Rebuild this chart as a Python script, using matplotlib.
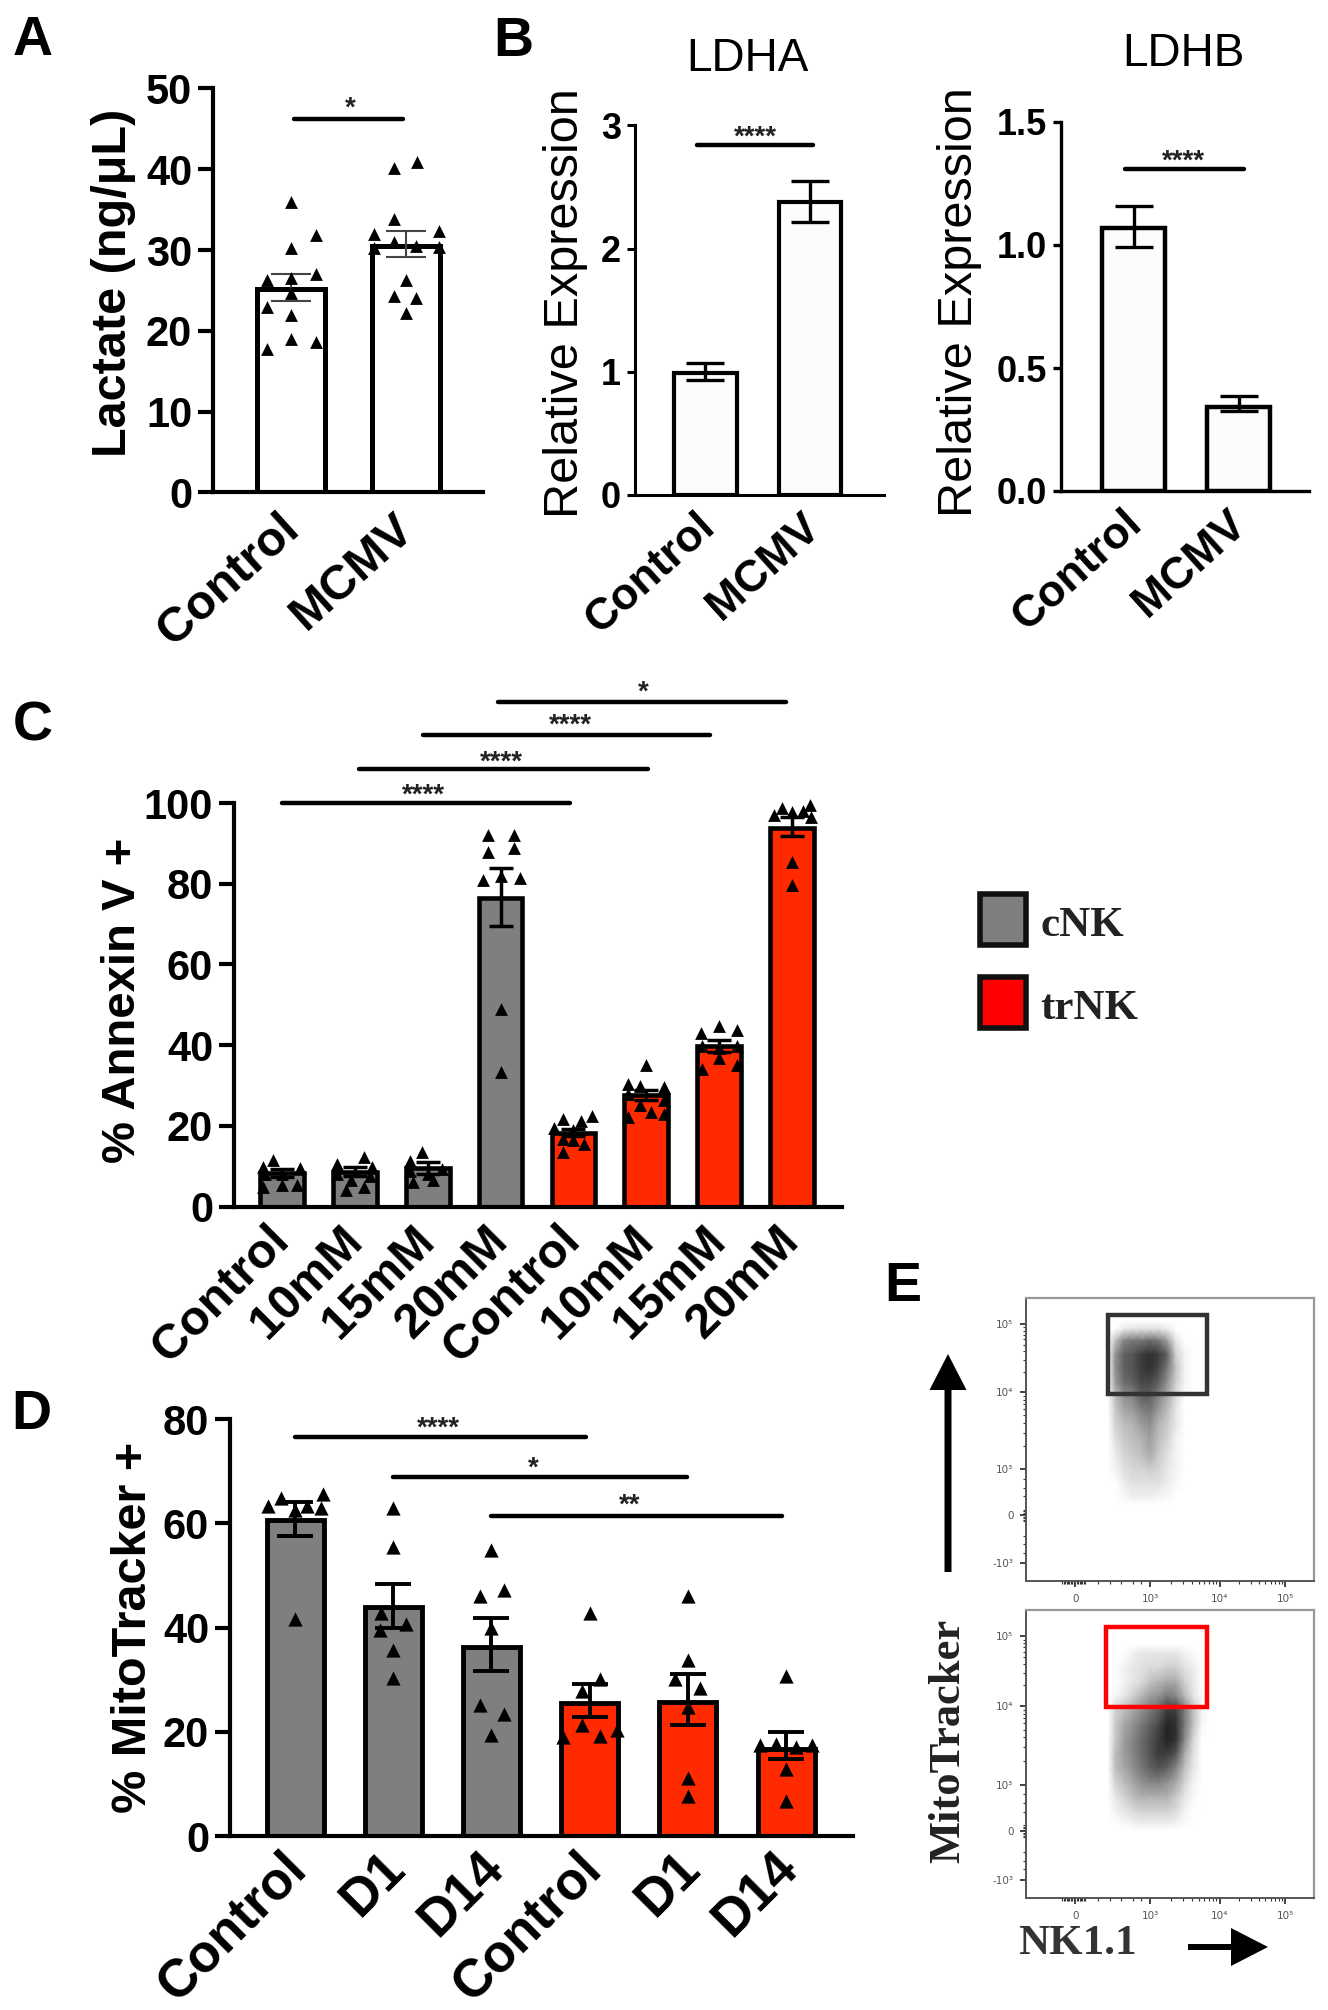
import numpy as np
import matplotlib
matplotlib.use('Agg')
import matplotlib.pyplot as plt
from matplotlib.patches import Rectangle

plt.rcParams['font.family'] = ['Liberation Sans', 'DejaVu Sans']

W, H = 1328, 2010
GREY = '#7f7f7f'
RED = '#ff2a00'

# panel A
a_labels = ['Control', 'MCMV']
a_values = [25.2, 30.5]
a_err_low = [23.7, 29.2]
a_err_high = [27.0, 32.3]
a_pts_y = [[36, 30.2, 31.8, 27, 26.3, 26.5, 24.7, 23, 22, 19, 18.6, 17.7],
           [40.1, 40.9, 33.8, 32, 32.4, 31, 30.5, 30.2, 30.4, 26.3, 24.3, 24.1, 22.2]]
a_pts_dx = [[0, 0, .22, .22, -.21, 0, 0, -.21, 0, 0, .22, -.21],
            [-.1, .1, -.1, -.28, .29, -.1, .09, -.28, .29, 0, -.1, .09, 0]]

# panel B
ldha_values = [0.99, 2.38]
ldha_err_low = [0.93, 2.22]
ldha_err_high = [1.07, 2.55]
ldhb_values = [1.07, 0.34]
ldhb_err_low = [0.99, 0.325]
ldhb_err_high = [1.16, 0.385]

# panel C
c_labels = ['Control', '10mM', '15mM', '20mM', 'Control', '10mM', '15mM', '20mM']
c_values = [8.4, 8.6, 9.5, 76.4, 18.3, 27.7, 39.8, 93.8]
c_err_low = [7.4, 7.5, 8.0, 69.6, 17.4, 26.4, 38.3, 91.8]
c_err_high = [9.4, 9.7, 11.0, 83.8, 19.2, 29.0, 41.3, 96.5]
c_pts_y = [[11.5, 9.7, 9.5, 4.9, 5.3, 5.3, 8, 8],
           [10.6, 12.4, 9.7, 4, 4.9, 6.6, 8, 7.5],
           [13.5, 11.2, 8.8, 9.3, 6.6, 6.2, 8],
           [92, 92, 87.9, 88.9, 81, 81.4, 82, 49, 33.4],
           [22.4, 21.7, 21.2, 19.5, 19, 16.8, 15.5, 16.4, 13.5],
           [35, 30.5, 29.6, 30, 27.9, 26.5, 25.2, 23.5, 23, 22.1],
           [44.7, 42.9, 43.8, 36.7, 34, 35, 39.4, 39.8, 39.8],
           [99.5, 98.7, 97, 97.8, 98, 96.5, 85.4, 79.6]]
c_pts_dx = [[-.125, -.27, .24, -.27, 0, .2, 0, -.24],
            [-.25, .13, .24, -.125, .13, -.05, -.25, .2],
            [-.08, -.24, -.24, .2, .07, -.2, 0],
            [-.17, .18, -.17, .18, -.24, .26, 0, 0, 0],
            [.25, -.14, .1, -.26, 0, -.14, .14, 0, -.14],
            [0, -.25, .25, -.08, -.25, .25, -.08, .07, .25, -.25],
            [0, -.25, .25, 0, -.24, .25, 0, -.24, .25],
            [.25, -.13, -.24, 0, .16, .27, 0, 0]]
c_sig = [(1, 4.95, 100, '****'), (2.06, 6.03, 108.4, '****'),
         (2.93, 6.88, 116.9, '****'), (3.96, 7.92, 125, '*')]

# panel D
d_labels = ['Control', 'D1', 'D14', 'Control', 'D1', 'D14']
d_values = [60.6, 44, 36.3, 25.6, 25.8, 16.7]
d_err_low = [57.5, 40, 31.6, 22.8, 21.2, 14.7]
d_err_high = [64, 48.4, 41.9, 29.2, 31.1, 20]
d_pts_y = [[63.3, 64.8, 65.6, 63.3, 62.9, 62.5, 41.7],
           [63, 55.4, 42.7, 40.7, 39.6, 35.7, 30.3],
           [54.8, 46.1, 47.1, 39.9, 25.1, 23.4, 19.3],
           [42.8, 30.1, 27.8, 21.2, 20.4, 19.1, 18.9],
           [46.1, 33.8, 30.1, 28.3, 24.7, 11.2, 7.6],
           [30.7, 17.5, 17.7, 17.5, 17, 12.9, 6.8]]
d_pts_dx = [[-.28, -.14, .28, .12, .26, 0, 0],
            [0, 0, -.12, .13, -.13, 0, 0],
            [0, -.12, .13, 0, -.12, .13, 0],
            [0, .1, -.08, -.08, .28, .1, -.27],
            [0, 0, -.13, .12, 0, 0, 0],
            [0, -.27, -.1, .26, .1, 0, 0]]
d_sig = [(1, 3.96, 76.5, '****'), (2, 4.99, 68.9, '*'), (2.99, 5.96, 61.4, '**')]

# panel E, estimated event density read by eye (0 = white, 1 = black)
e_top_x = [.285, .31, .34, .37, .40, .43, .46, .49, .52, .55, .58]
e_top_y = [.92, .89, .85, .80, .75, .70, .65, .60, .55, .50, .45, .40, .35, .30, .27]
e_top_density = [[0, 0, 0, 0, 0, 0, 0, 0, 0, 0, 0],
                 [0, 0, .08, .12, .12, .12, .12, .08, 0, 0, 0],
                 [0, .25, .5, .55, .55, .6, .55, .4, .1, 0, 0],
                 [0, .45, .65, .7, .8, .85, .8, .65, .2, .05, 0],
                 [0, .45, .65, .7, .8, .85, .75, .55, .25, .05, 0],
                 [0, .4, .6, .65, .75, .75, .65, .45, .2, .05, 0],
                 [0, .27, .45, .5, .65, .65, .5, .35, .15, 0, 0],
                 [0, .22, .35, .4, .5, .55, .4, .27, .1, 0, 0],
                 [0, .18, .27, .3, .4, .45, .3, .22, .1, 0, 0],
                 [0, .13, .22, .27, .3, .4, .27, .18, .05, 0, 0],
                 [0, .08, .18, .22, .27, .35, .22, .13, .05, 0, 0],
                 [0, .05, .13, .18, .18, .22, .18, .1, .05, 0, 0],
                 [0, 0, .08, .13, .13, .13, .13, .08, .03, 0, 0],
                 [0, 0, .03, .07, .07, .07, .05, .03, 0, 0, 0],
                 [0, 0, 0, 0, 0, 0, 0, 0, 0, 0, 0]]
e_bot_x = [.285, .31, .34, .37, .40, .43, .46, .49, .52, .55, .58, .61, .635]
e_bot_y = [.88, .85, .80, .75, .70, .65, .60, .55, .50, .45, .40, .35, .30, .26, .235]
e_bot_density = [[0, 0, 0, 0, 0, 0, 0, 0, 0, 0, 0, 0, 0],
                 [0, 0, 0, .05, .1, .1, .1, .1, .1, .05, .02, 0, 0],
                 [0, 0, .05, .1, .12, .15, .15, .2, .2, .12, .08, 0, 0],
                 [0, 0, .05, .1, .15, .25, .3, .35, .35, .2, .1, 0, 0],
                 [0, .03, .1, .2, .3, .4, .45, .55, .5, .3, .12, .02, 0],
                 [0, .18, .27, .36, .45, .55, .65, .8, .8, .55, .27, .05, 0],
                 [0, .22, .36, .45, .55, .65, .75, .9, .85, .55, .27, .03, 0],
                 [0, .22, .4, .5, .6, .7, .8, .9, .85, .5, .18, 0, 0],
                 [0, .27, .4, .5, .6, .7, .8, .8, .7, .36, .13, 0, 0],
                 [0, .27, .36, .45, .55, .65, .7, .65, .5, .27, .1, 0, 0],
                 [0, .18, .27, .36, .45, .5, .5, .45, .36, .18, .05, 0, 0],
                 [0, .1, .18, .27, .32, .32, .32, .32, .22, .1, .03, 0, 0],
                 [0, .05, .1, .14, .18, .18, .18, .18, .14, .05, 0, 0, 0],
                 [0, 0, .03, .05, .08, .08, .08, .08, .05, .02, 0, 0, 0],
                 [0, 0, 0, 0, 0, 0, 0, 0, 0, 0, 0, 0, 0]]
e_yticks = [.908, .667, .394, .232, .063]
e_yticklabels = ['10⁵', '10⁴', '10³', '0', '-10³']
e_xticks = [.171, .431, .672, .900]
e_xticklabels = ['0', '10³', '10⁴', '10⁵']

fig = plt.figure(figsize=(W / 100, H / 100), dpi=100)


def px_axes(x0, y_top, x1, y_bottom):
    return fig.add_axes([x0 / W, 1 - y_bottom / H, (x1 - x0) / W, (y_bottom - y_top) / H])


def bar_panel(box, xlim, ylim, yticks, values, err_low, err_high, colors, labels,
              width=0.59, lw=3, spine_lw=3, capsize=13, ecolor='k', elw=2.5,
              pts_y=None, pts_dx=None, ms=90, tick_size=30, label_size=34, rot=43,
              label_off=(6, -20), ticklen=11, yfmt=None):
    ax = px_axes(*box)
    xs = np.arange(1, len(values) + 1)
    ax.bar(xs, values, width=width, color=colors, edgecolor='k', linewidth=lw, zorder=2)
    low = np.array(values) - np.array(err_low)
    high = np.array(err_high) - np.array(values)
    ax.errorbar(xs, values, yerr=[low, high], fmt='none', ecolor=ecolor, elinewidth=elw,
                capsize=capsize, capthick=elw, zorder=3)
    if pts_y is not None:
        for x, ys, dxs in zip(xs, pts_y, pts_dx):
            ax.scatter(x + np.array(dxs), ys, marker='^', s=ms, color='k', linewidths=0,
                       zorder=4, clip_on=False)
    ax.set_xlim(*xlim)
    ax.set_ylim(*ylim)
    ax.set_yticks(yticks)
    if yfmt:
        ax.set_yticklabels([yfmt.format(t) for t in yticks])
    ax.tick_params(axis='y', length=ticklen, width=spine_lw, labelsize=tick_size, pad=4)
    for t in ax.get_yticklabels():
        t.set_fontweight('bold')
    ax.set_xticks(xs)
    ax.set_xticklabels([])
    ax.tick_params(axis='x', length=0)
    for s in ['top', 'right']:
        ax.spines[s].set_visible(False)
    for s in ['left', 'bottom']:
        ax.spines[s].set_linewidth(spine_lw)
    for x, lab in zip(xs, labels):
        ax.annotate(lab, xy=(x, 0), xycoords=('data', 'axes fraction'), xytext=label_off,
                    textcoords='offset pixels', rotation=rot, ha='right', va='center',
                    rotation_mode='anchor', fontsize=label_size, fontweight='bold')
    return ax


def sig_line(ax, x0, x1, y, lw=3.2):
    ax.plot([x0, x1], [y, y], color='k', lw=lw, clip_on=False, solid_capstyle='round', zorder=5)


# A
ax_a = bar_panel((213, 88.4, 483, 492.5), (0.322, 2.67), (0, 50), [0, 10, 20, 30, 40, 50],
                 a_values, a_err_low, a_err_high, ['white', 'white'], a_labels,
                 lw=3.6, ecolor='#444444', elw=1.5, capsize=14.5, pts_y=a_pts_y, pts_dx=a_pts_dx,
                 ms=85, label_size=35, rot=42, label_off=(2, -30))
sig_line(ax_a, 1.03, 1.97, 46.2)

# B
ax_b1 = bar_panel((635, 125.5, 884, 495), (0.333, 2.705), (0, 3), [0, 1, 2, 3],
                  ldha_values, ldha_err_low, ldha_err_high, ['#fcfcfc', '#fcfcfc'], a_labels,
                  width=0.6, lw=3, spine_lw=2.2, elw=2.4, capsize=13.5, tick_size=26,
                  label_size=32, rot=42, ticklen=6, label_off=(4, -26))
sig_line(ax_b1, 0.92, 2.03, 2.84)
ax_b2 = bar_panel((1061, 122, 1309, 491), (0.31, 2.67), (0, 1.5), [0, 0.5, 1, 1.5],
                  ldhb_values, ldhb_err_low, ldhb_err_high, ['#fcfcfc', '#fcfcfc'], a_labels,
                  width=0.6, lw=3.2, spine_lw=2.4, elw=2.4, capsize=13.5, tick_size=26,
                  label_size=32, rot=42, ticklen=6, yfmt='{:.1f}', label_off=(2, -27))
sig_line(ax_b2, 0.92, 2.05, 1.31)

# C
c_colors = [GREY] * 4 + [RED] * 4
ax_c = bar_panel((234, 803, 842, 1206.6), (0.338, 8.69), (0, 100), [0, 20, 40, 60, 80, 100],
                 c_values, c_err_low, c_err_high, c_colors, c_labels,
                 width=0.6, lw=3.3, elw=2.5, capsize=8.5, pts_y=c_pts_y, pts_dx=c_pts_dx,
                 ms=85, label_size=35, rot=45, label_off=(0, -27))
for x0, x1, y, _ in c_sig:
    sig_line(ax_c, x0, x1, y)

# D
d_colors = [GREY] * 3 + [RED] * 3
ax_d = bar_panel((230, 1419, 853, 1836), (0.338, 6.68), (0, 80), [0, 20, 40, 60, 80],
                 d_values, d_err_low, d_err_high, d_colors, d_labels,
                 width=0.58, lw=3.5, elw=2.8, capsize=13, pts_y=d_pts_y, pts_dx=d_pts_dx,
                 ms=105, label_size=38, rot=45, label_off=(4, -24))
for x0, x1, y, _ in d_sig:
    sig_line(ax_d, x0, x1, y)


# E
def flow_panel(box, xs, ys, density, gate_color, gate):
    ax = px_axes(*box)
    ax.pcolormesh(xs, ys, np.array(density), shading='gouraud', cmap='gray_r', vmin=0, vmax=1.05)
    ax.set_xlim(0, 1)
    ax.set_ylim(0, 1)
    ax.add_patch(Rectangle((gate[0], gate[2]), gate[1] - gate[0], gate[3] - gate[2],
                           fill=False, edgecolor=gate_color, lw=3.2, zorder=5))
    ax.set_xticks(e_xticks)
    ax.set_xticklabels(e_xticklabels)
    ax.set_yticks(e_yticks)
    ax.set_yticklabels(e_yticklabels)
    ax.tick_params(length=4, width=1.2, labelsize=7.5, labelcolor='#555555', color='#222222', pad=5)
    for tk in ax.get_xticklabels() + ax.get_yticklabels():
        tk.set_family(['DejaVu Sans'])
    # log minor ticks between the decade marks, packed around zero like the FlowJo axis
    ym, xm = [], []
    for lo, hi in [(e_yticks[2], e_yticks[1]), (e_yticks[1], e_yticks[0])]:
        ym += [lo + (hi - lo) * np.log10(m) for m in range(2, 10)]
    for lo, hi in [(e_xticks[1], e_xticks[2]), (e_xticks[2], e_xticks[3])]:
        xm += [lo + (hi - lo) * np.log10(m) for m in range(2, 10)]
    ym += list(e_yticks[3] + np.linspace(-.02, .02, 9)) + [.10, .13, .16, .30, .33, .36]
    xm += list(e_xticks[0] + np.linspace(-.045, .035, 17)) + [.25, .29, .33, .37, .40]
    ax.set_yticks(ym, minor=True)
    ax.set_xticks(xm, minor=True)
    ax.tick_params(which='minor', length=2.5, width=0.8, color='#333333')
    for s in ['top', 'right']:
        ax.spines[s].set_color('#999999')
        ax.spines[s].set_linewidth(1.6)
    for s in ['left', 'bottom']:
        ax.spines[s].set_color('#555555')
        ax.spines[s].set_linewidth(1.4)
    return ax


flow_panel((1026, 1298, 1314, 1581), e_top_x, e_top_y, e_top_density, '#333333', (.283, .628, .662, .940))
flow_panel((1026, 1610, 1314, 1898), e_bot_x, e_bot_y, e_bot_density, '#ff0000', (.279, .630, .664, .941))

# full figure layer in pixel coordinates, for letters, axis titles, stars, legend and arrows
ov = fig.add_axes([0, 0, 1, 1], zorder=10)
ov.set_xlim(0, W)
ov.set_ylim(H, 0)
ov.axis('off')
ov.patch.set_alpha(0)

for s, x, y in [('A', 33, 41), ('B', 513, 42), ('C', 33, 726), ('D', 31, 1415), ('E', 903, 1287)]:
    ov.text(x, y, s, fontsize=40, fontweight='bold', ha='center', va='center')

ov.text(113, 283, 'Lactate (ng/μL)', fontsize=35, fontweight='bold', rotation=90, ha='center', va='center')
ov.text(566, 303, 'Relative Expression', fontsize=35, rotation=90, ha='center', va='center')
ov.text(960, 302, 'Relative Expression', fontsize=35, rotation=90, ha='center', va='center')
ov.text(123, 1000, '% Annexin V +', fontsize=34, fontweight='bold', rotation=90, ha='center', va='center')
ov.text(134, 1627, '% MitoTracker +', fontsize=35, fontweight='bold', rotation=90, ha='center', va='center')
ov.text(747, 59, 'LDHA', fontsize=33, ha='center', va='center')
ov.text(1183, 54, 'LDHB', fontsize=33, ha='center', va='center')

star_pos = [('*', 350, 109), ('****', 755, 138), ('****', 1183, 162),
            ('****', 423, 796), ('****', 501, 763), ('****', 570.5, 726), ('*', 643, 693),
            ('****', 438, 1429), ('*', 533, 1469), ('**', 630, 1506)]
for s, x, y in star_pos:
    ov.text(x, y, s, fontsize=20, fontweight='bold', ha='center', va='center', color='#222222')

# legend
for y0, fc, name in [(892, GREY, 'cNK'), (975, '#ff0000', 'trNK')]:
    ov.add_patch(Rectangle((980, y0 + 2), 46, 51, facecolor=fc, edgecolor='#111111', lw=4))
    ov.text(1040, y0 + 34, name, fontsize=31, fontweight='bold', family=['Liberation Serif'],
            va='center', color='#222222')

# arrows and axis titles of the flow plots
ov.arrow(948, 1572, 0, -218, width=7, head_width=37, head_length=36,
         length_includes_head=True, color='k', lw=0)
ov.arrow(1188, 1947, 80, 0, width=6, head_width=38, head_length=37,
         length_includes_head=True, color='k', lw=0)
ov.text(948, 1741, 'MitoTracker', fontsize=32, fontweight='bold', family=['Liberation Serif'],
        rotation=90, ha='center', va='center', color='#222222')
ov.text(1018, 1944, 'NK1.1', fontsize=31, fontweight='bold', family=['Liberation Serif'],
        va='center', color='#333333')

fig.savefig('out.png', dpi=100, facecolor='white')
